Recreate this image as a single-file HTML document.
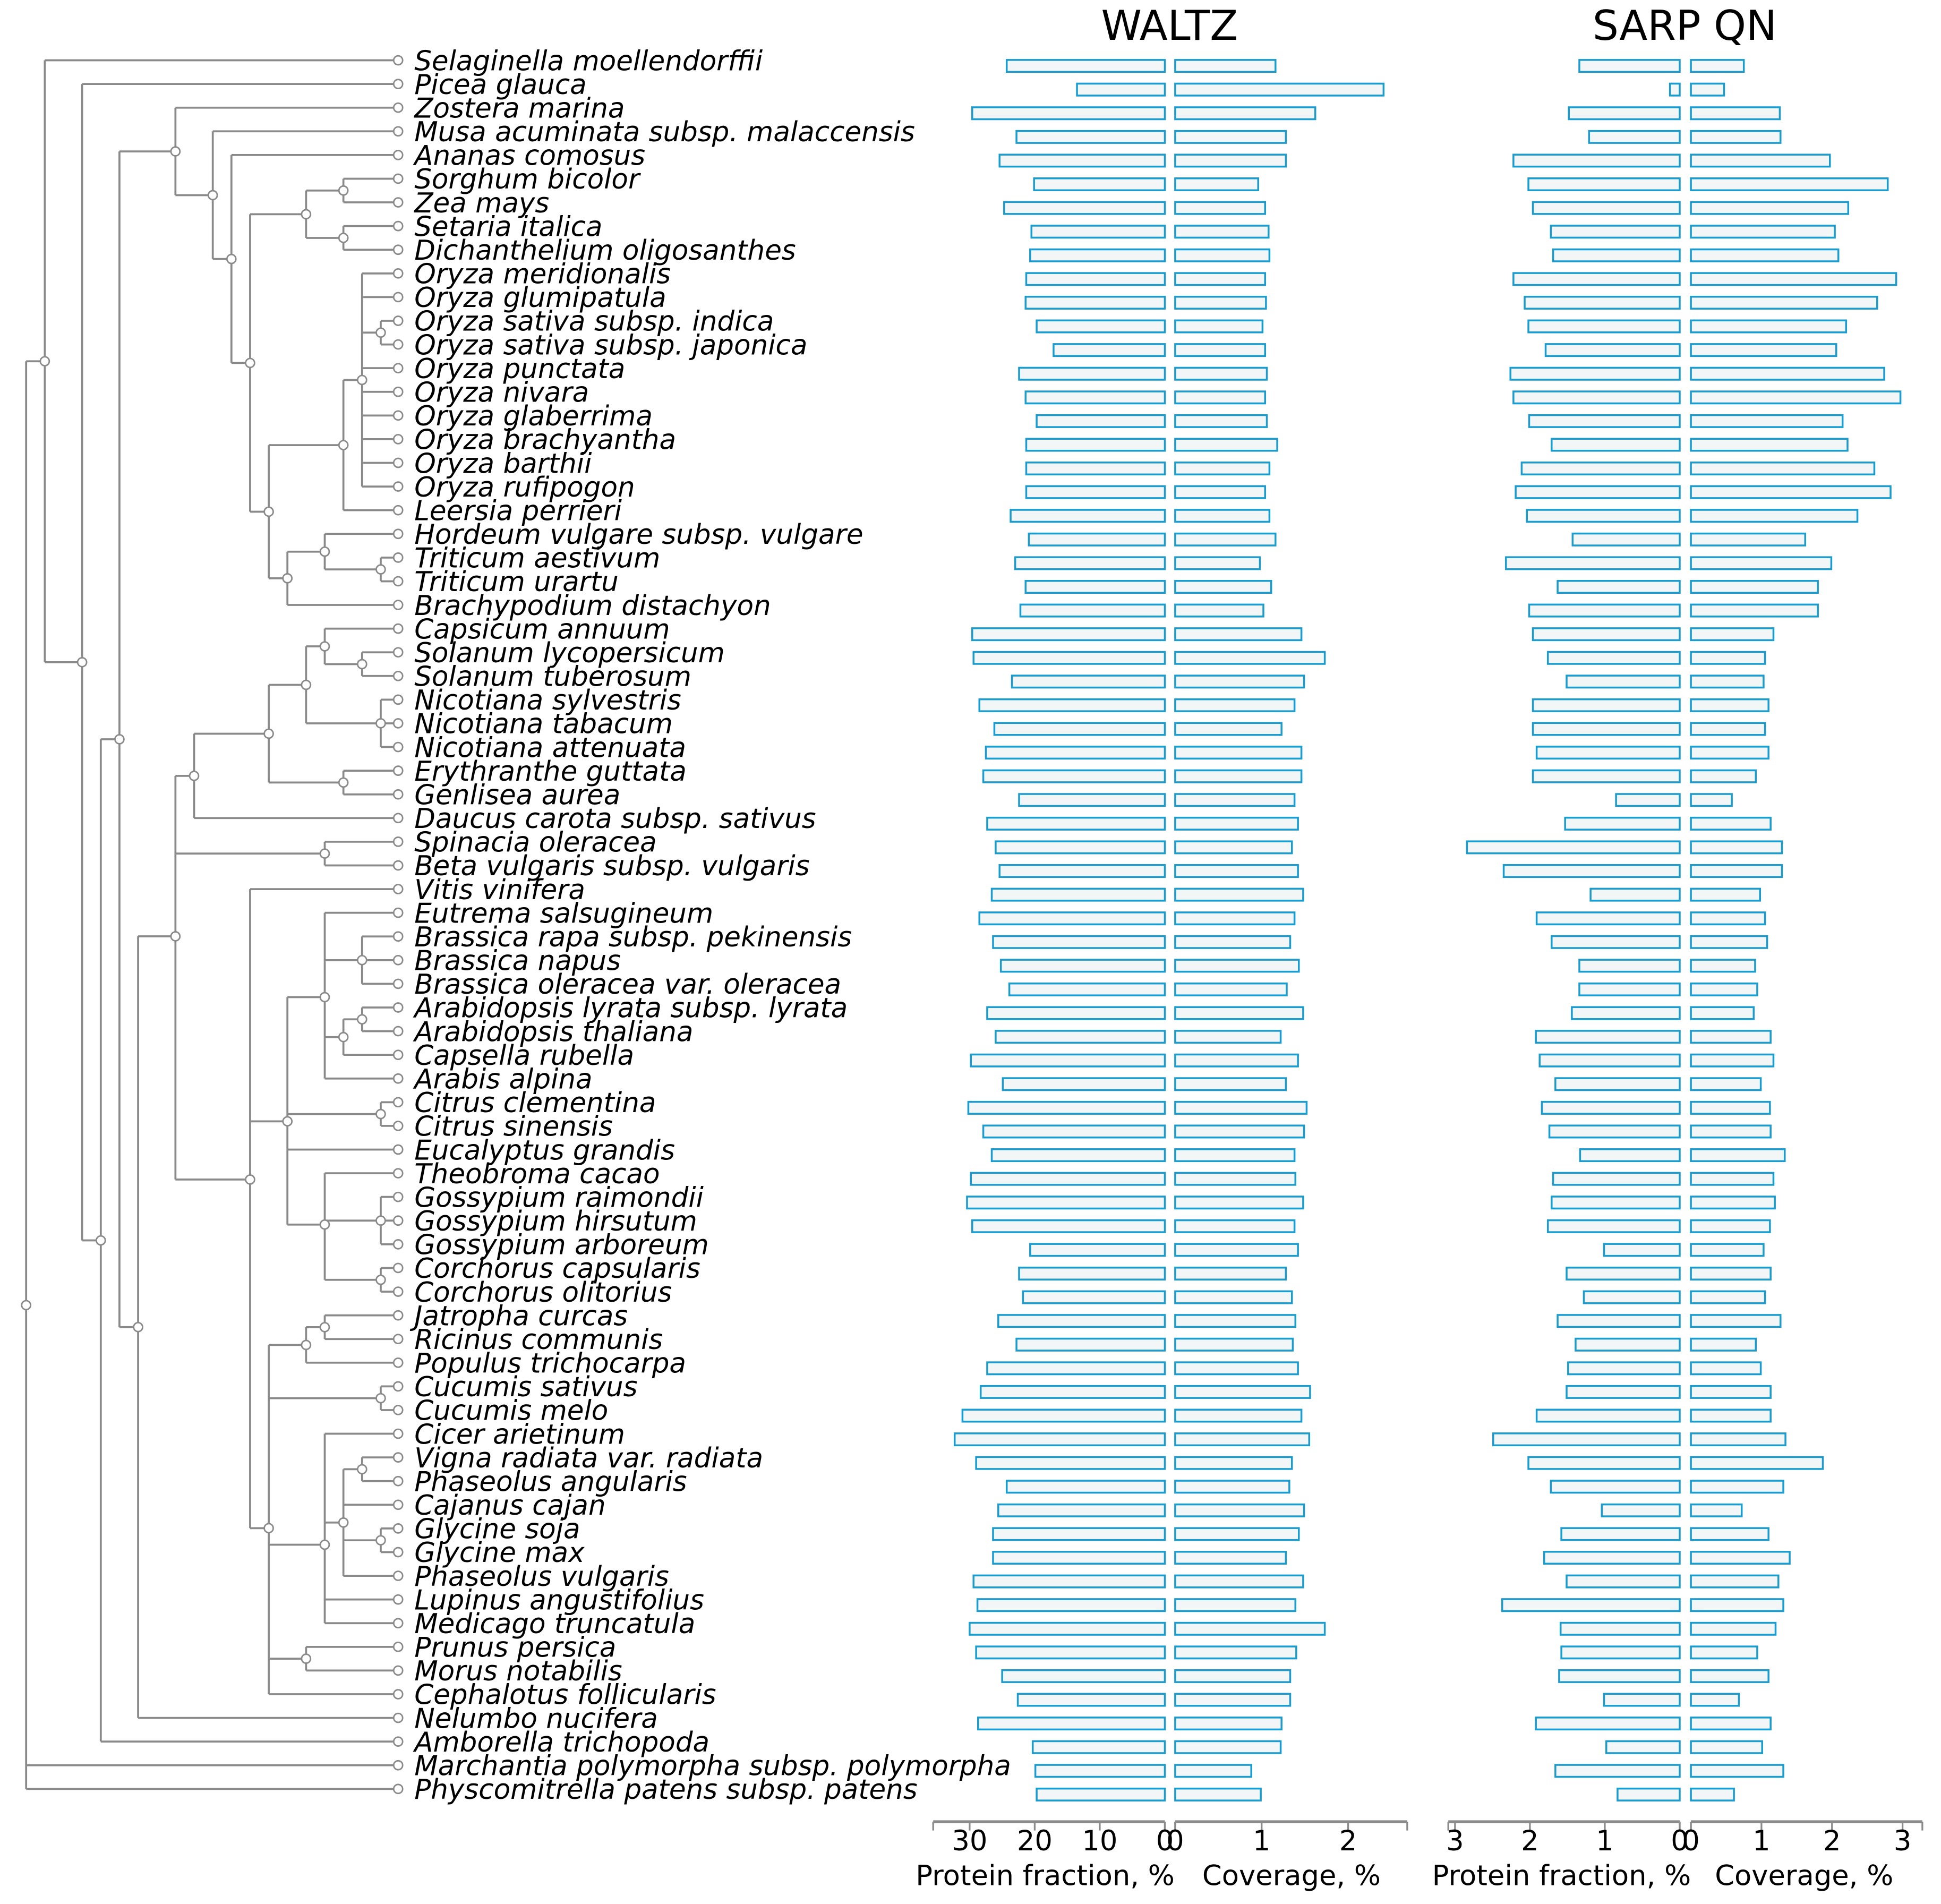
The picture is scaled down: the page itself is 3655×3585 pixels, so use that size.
<!DOCTYPE html>
<html><head><meta charset="utf-8"><style>
html,body{margin:0;padding:0;background:#fff;}
svg{display:block;}
text{font-family:"DejaVu Sans","Liberation Sans",sans-serif;fill:#000;}
</style></head><body>
<svg id="chart" width="3655" height="3585" viewBox="0 0 1560 1530" xmlns="http://www.w3.org/2000/svg">
<rect x="0" y="0" width="1560" height="1530" fill="#fff"/>
<g id="tree"></g>
<g id="labels"></g>
<g id="bars"></g>
<g id="axes"></g>
</svg>
<script>
const species = ["Selaginella moellendorffii","Picea glauca","Zostera marina","Musa acuminata subsp. malaccensis","Ananas comosus","Sorghum bicolor","Zea mays","Setaria italica","Dichanthelium oligosanthes","Oryza meridionalis","Oryza glumipatula","Oryza sativa subsp. indica","Oryza sativa subsp. japonica","Oryza punctata","Oryza nivara","Oryza glaberrima","Oryza brachyantha","Oryza barthii","Oryza rufipogon","Leersia perrieri","Hordeum vulgare subsp. vulgare","Triticum aestivum","Triticum urartu","Brachypodium distachyon","Capsicum annuum","Solanum lycopersicum","Solanum tuberosum","Nicotiana sylvestris","Nicotiana tabacum","Nicotiana attenuata","Erythranthe guttata","Genlisea aurea","Daucus carota subsp. sativus","Spinacia oleracea","Beta vulgaris subsp. vulgaris","Vitis vinifera","Eutrema salsugineum","Brassica rapa subsp. pekinensis","Brassica napus","Brassica oleracea var. oleracea","Arabidopsis lyrata subsp. lyrata","Arabidopsis thaliana","Capsella rubella","Arabis alpina","Citrus clementina","Citrus sinensis","Eucalyptus grandis","Theobroma cacao","Gossypium raimondii","Gossypium hirsutum","Gossypium arboreum","Corchorus capsularis","Corchorus olitorius","Jatropha curcas","Ricinus communis","Populus trichocarpa","Cucumis sativus","Cucumis melo","Cicer arietinum","Vigna radiata var. radiata","Phaseolus angularis","Cajanus cajan","Glycine soja","Glycine max","Phaseolus vulgaris","Lupinus angustifolius","Medicago truncatula","Prunus persica","Morus notabilis","Cephalotus follicularis","Nelumbo nucifera","Amborella trichopoda","Marchantia polymorpha subsp. polymorpha","Physcomitrella patens subsp. patens"];
const waltzProtein = [24.3,13.5,29.6,22.8,25.4,20.1,24.7,20.5,20.7,21.3,21.4,19.7,17.1,22.4,21.4,19.7,21.3,21.3,21.3,23.7,20.9,23.0,21.4,22.2,29.6,29.4,23.5,28.5,26.2,27.5,27.9,22.4,27.3,26.0,25.4,26.6,28.5,26.4,25.2,23.9,27.3,26.0,29.8,24.9,30.2,27.9,26.6,29.8,30.4,29.6,20.7,22.4,21.8,25.6,22.8,27.3,28.3,31.1,32.3,29.0,24.3,25.6,26.4,26.4,29.4,28.8,30.0,29.0,25.0,22.6,28.7,20.3,19.9,19.7];
const waltzCoverage = [1.16,2.41,1.62,1.28,1.28,0.96,1.04,1.08,1.09,1.04,1.05,1.01,1.04,1.06,1.04,1.06,1.18,1.09,1.04,1.09,1.16,0.98,1.11,1.02,1.46,1.73,1.49,1.38,1.23,1.46,1.46,1.38,1.42,1.35,1.42,1.48,1.38,1.33,1.43,1.29,1.48,1.22,1.42,1.28,1.52,1.49,1.38,1.39,1.48,1.38,1.42,1.28,1.35,1.39,1.36,1.42,1.56,1.46,1.55,1.35,1.32,1.49,1.43,1.28,1.48,1.39,1.73,1.40,1.33,1.33,1.23,1.22,0.88,0.99];
const sarpProtein = [1.34,0.13,1.48,1.21,2.22,2.02,1.96,1.72,1.69,2.22,2.07,2.02,1.79,2.26,2.22,2.01,1.71,2.11,2.19,2.04,1.43,2.32,1.63,2.01,1.96,1.76,1.51,1.96,1.96,1.91,1.96,0.85,1.53,2.84,2.35,1.19,1.91,1.71,1.34,1.34,1.44,1.92,1.87,1.66,1.84,1.74,1.33,1.69,1.71,1.76,1.01,1.51,1.28,1.63,1.39,1.49,1.51,1.91,2.49,2.02,1.72,1.04,1.58,1.81,1.51,2.37,1.59,1.58,1.61,1.01,1.92,0.98,1.66,0.83];
const sarpCoverage = [0.75,0.47,1.26,1.27,1.97,2.79,2.23,2.04,2.09,2.91,2.64,2.20,2.06,2.74,2.97,2.15,2.22,2.60,2.83,2.36,1.62,1.99,1.80,1.80,1.17,1.05,1.03,1.10,1.05,1.10,0.92,0.58,1.13,1.29,1.29,0.98,1.05,1.08,0.91,0.94,0.89,1.13,1.17,0.99,1.12,1.13,1.33,1.17,1.19,1.12,1.03,1.13,1.05,1.27,0.92,0.99,1.13,1.13,1.34,1.87,1.31,0.72,1.10,1.40,1.24,1.31,1.20,0.94,1.10,0.68,1.13,1.01,1.31,0.61];
const waltzProteinTicks = [30,20,10,0];
const waltzCoverageTicks = [0,1,2];
const sarpProteinTicks = [3,2,1,0];
const sarpCoverageTicks = [0,1,2,3];

const NS = "http://www.w3.org/2000/svg";
function mk(tag, attrs, parent){const e=document.createElementNS(NS,tag);for(const k in attrs)e.setAttribute(k,attrs[k]);parent.appendChild(e);return e;}
const rowY = i => 48.4 + i*19.03;
const LEAFX = 320, GRAY = "#8a8a8a";

const xWP = v => 936.2 - v*5.23;
const xWC = v => 944.5 + v*69.5;
const xSP = v => 1350 - v*60.2;
const xSC = v => 1359 + v*56.7;

function N(x,c,y){return {x:x,c:c,y:y};}
const MON = N(141,[2,N(171,[3,N(186,[4,N(201,[N(246,[N(276,[5,6]),N(276,[7,8])]),N(216,[N(276,[N(291,[9,10,N(306,[11,12]),13,14,15,16,17,18],'mid'),19]),N(231,[N(261,[20,N(306,[21,22])]),23])])])])])]);
const EUD = N(111,[N(141,[N(156,[N(216,[N(246,[N(261,[24,N(291,[25,26])]),N(306,[27,28,29])]),N(276,[30,31])]),32]),N(261,[33,34]),N(201,[35,N(231,[N(261,[36,N(291,[37,38,39]),N(276,[N(291,[40,41]),42]),43]),N(306,[44,45]),46,N(261,[47,N(306,[48,49,50]),N(306,[51,52])])]),N(216,[N(246,[N(261,[53,54]),55]),N(306,[56,57]),N(261,[58,N(276,[N(291,[59,60]),61,N(306,[62,63]),64]),65,66]),N(246,[67,68]),69])])]),70]);
const TREE = N(21,[N(36,[0,N(66,[1,N(81,[N(96,[MON,EUD]),71])])]),72,73]);
const tree = document.getElementById('tree');
const nodeCircles = [];
function layout(n){
  if(typeof n === 'number') return {x:LEAFX,y:rowY(n)};
  const ch = n.c.map(layout);
  const ys = ch.map(c=>c.y);
  const y = n.y === 'mid' ? (Math.min(...ys)+Math.max(...ys))/2 : ys.reduce((a,b)=>a+b,0)/ys.length;
  const v = mk('line',{x1:n.x,x2:n.x,y1:Math.min(...ys),y2:Math.max(...ys),stroke:GRAY,'stroke-width':1.6},tree);
  
  
  ch.forEach(c=>{
    const h = mk('line',{x1:n.x,x2:c.x,y1:c.y,y2:c.y,stroke:GRAY,'stroke-width':1.6},tree);
    
    
  });
  nodeCircles.push([n.x,y]);
  return {x:n.x,y:y};
}
layout(TREE);
nodeCircles.forEach(p=>{
  const c = mk('circle',{cx:p[0],cy:p[1],r:3.6,fill:'#fff',stroke:GRAY,'stroke-width':1.2},tree);
  
  
});

const labels = document.getElementById('labels');
const bars = document.getElementById('bars');
species.forEach((s,i)=>{
  const y = rowY(i);
  const lc = mk('circle',{cx:LEAFX,cy:y,r:3.6,fill:'#fff',stroke:GRAY,'stroke-width':1.2},tree);
  
  
  const t = mk('text',{x:333,y:y+8,'font-size':22,'font-style':'italic'},labels);
  t.textContent = s;
  
  
  const by = y - 0.3, bh = 9.6;
  const sets = [[xWP(waltzProtein[i]),xWP(0)],[xWC(0),xWC(waltzCoverage[i])],[xSP(sarpProtein[i]),xSP(0)],[xSC(0),xSC(sarpCoverage[i])]];
  const names = ['waltz-protein-bar','waltz-coverage-bar','sarp-protein-bar','sarp-coverage-bar'];
  sets.forEach((p,k)=>{
    const r = mk('rect',{x:p[0],y:by,width:Math.max(0.5,p[1]-p[0]),height:bh,fill:'#f3f6f6',stroke:'#1a9ccf','stroke-width':1.5},bars);
    
    
  });
});

const axes = document.getElementById('axes');
const AY = 1464;
function axis(x0,x1,ticks,scale,name){
  const l = mk('line',{x1:x0,x2:x1,y1:AY,y2:AY,stroke:GRAY,'stroke-width':2.4},axes);
  
  
  [x0,x1].forEach(x=>{
    const e = mk('line',{x1:x,x2:x,y1:AY,y2:AY+7,stroke:GRAY,'stroke-width':1.4},axes);
    
    
  });
  ticks.forEach(v=>{
    const x = scale(v);
    const tk = mk('line',{x1:x,x2:x,y1:AY,y2:AY+7,stroke:GRAY,'stroke-width':1.4},axes);
    
    
    const t = mk('text',{x:x,y:1487,'font-size':22.5,'text-anchor':'middle'},axes);
    t.textContent = String(v);
    
    
  });
}
axis(750,936.2,waltzProteinTicks,xWP,'waltz-protein-axis');
axis(944.5,1131,waltzCoverageTicks,xWC,'waltz-coverage-axis');
axis(1164,1350,sarpProteinTicks,xSP,'sarp-protein-axis');
axis(1359,1545,sarpCoverageTicks,xSC,'sarp-coverage-axis');
function txt(x,y,s,size,name){
  const t = mk('text',{x:x,y:y,'font-size':size,'text-anchor':'middle'},axes);
  t.textContent = s;
  
  
}
txt(840,1515,'Protein fraction, %',22.5,'waltz-protein-axis-title');
txt(1038,1515,'Coverage, %',22.5,'waltz-coverage-axis-title');
txt(1255,1515,'Protein fraction, %',22.5,'sarp-protein-axis-title');
txt(1450,1515,'Coverage, %',22.5,'sarp-coverage-axis-title');
txt(940,32,'WALTZ',33,'waltz-title');
txt(1354,32,'SARP QN',33,'sarp-title');
</script>
</body></html>
